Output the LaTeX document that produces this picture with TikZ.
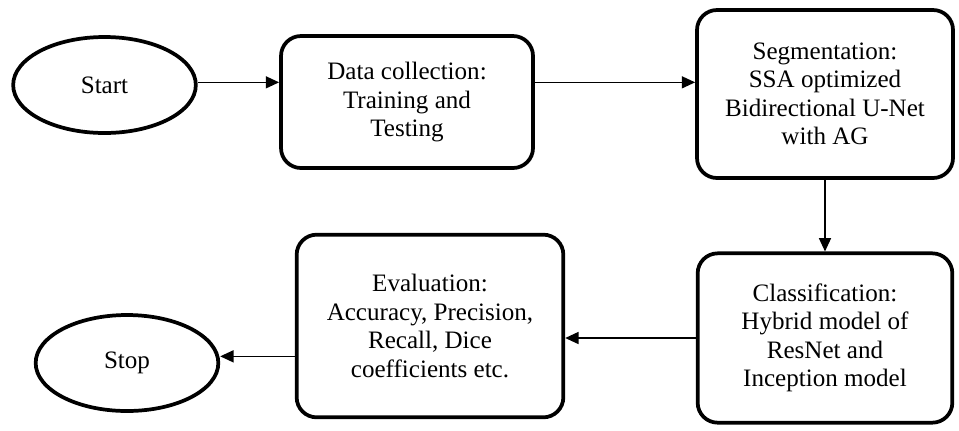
\documentclass[tikz,border=0pt]{standalone}
\usepackage{fontspec}
\setmainfont{Liberation Serif}
\usetikzlibrary{arrows.meta, shapes.geometric}
\tikzset{every node/.style={font=\fontsize{18.8}{21.3}\selectfont}}

\begin{document}
\begin{tikzpicture}[x=0.75pt, y=-0.75pt, >={Triangle[length=10pt, width=9pt]}]
  % Fixed bounding box (pixel grid of the original)
  \path[use as bounding box] (0,0) rectangle (959,430);

  \tikzset{
    terminal/.style={ellipse, draw, line width=2.8pt, minimum width=137pt,
      minimum height=72pt, inner sep=0pt},
    stagebox/.style={draw, line width=2.8pt, rounded corners=15pt,
      align=center, inner sep=0pt},
    flow/.style={->, line width=1.1pt}
  }

  % Terminals.
  \node[terminal] (start) at (104.5,85) {Start};
  \node[terminal] (stop) at (127,363) {Stop};

  % Stages.
  \node[stagebox, minimum width=189pt, minimum height=99pt] (data) at (407,102)
    {Data collection:\\Training and\\Testing};
  \node[stagebox, minimum width=192pt, minimum height=126pt] (seg) at (825,94)
    {Segmentation:\\SSA optimized\\Bidirectional U-Net\\with AG};
  \node[stagebox, minimum width=191pt, minimum height=127pt] (class) at (825,338)
    {Classification:\\Hybrid model of\\ResNet and\\Inception model};
  \node[stagebox, minimum width=200pt, minimum height=137pt] (eval) at (430,326)
    {Evaluation:\\Accuracy, Precision,\\Recall, Dice\\coefficients etc.};

  % Flow.
  \draw[flow] ([yshift=2pt]start.east) -- ([yshift=2pt]start.east -| data.west);
  \draw[flow] ([yshift=2pt]data.east |- start.east) -- ([yshift=2pt]seg.west |- start.east);
  \draw[flow] (seg) -- (class);
  \draw[flow] (class.west) -- (class.west -| eval.east);
  \draw[flow] ([yshift=5pt]eval.west |- stop.east) -- ([yshift=5pt]stop.east);
\end{tikzpicture}
\end{document}
